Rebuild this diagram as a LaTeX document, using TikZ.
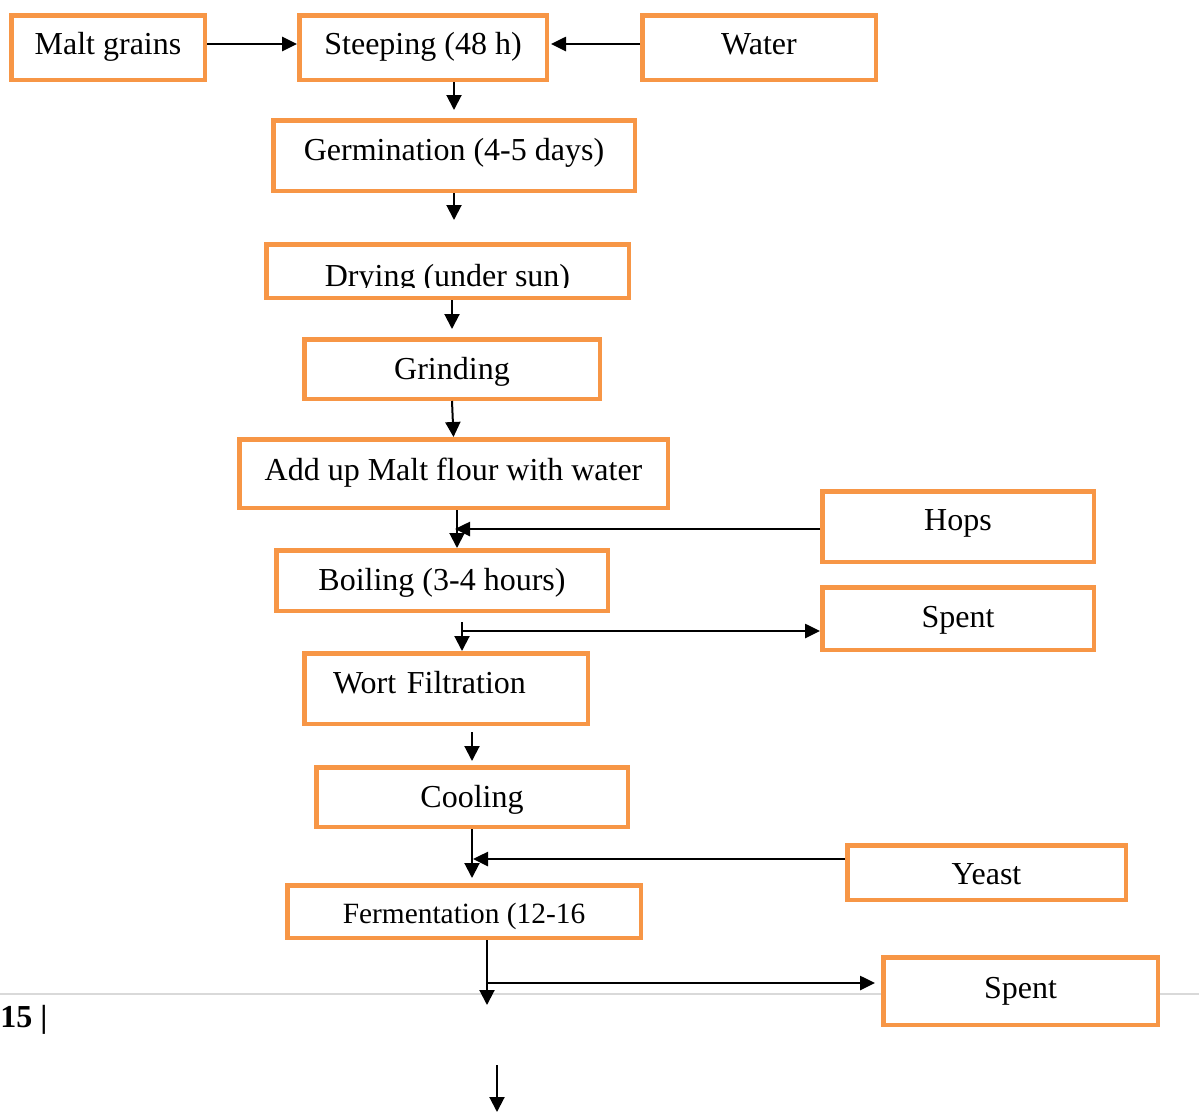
\documentclass[tikz,border=0pt]{standalone}
\usepackage{fontspec}
\setmainfont{Liberation Serif}
\definecolor{boxorange}{RGB}{247,150,70}
\definecolor{rulegray}{RGB}{217,217,217}
\usetikzlibrary{arrows.meta}

\begin{document}
\begin{tikzpicture}[x=0.5pt, y=-0.5pt,
    stepbox/.style={draw=boxorange, line width=2.25pt, fill=white, inner sep=0pt, font=\fontsize{16}{19}\selectfont, text height=10.9pt, text depth=3.5pt},
    flow/.style={-{Triangle[length=7.5pt, width=7.5pt]}, line width=1pt},
    feed/.style={-{Triangle[length=7.5pt, width=7pt]}, line width=1.3pt}]
    \useasboundingbox (0,0) rectangle (1199,1114);
    \draw[rulegray, line width=1pt] (0,994) -- (1199,994);
    \node[stepbox, minimum width=96.75pt, minimum height=32.25pt] (malt) at (108,47.5) {Malt grains};
    \node[stepbox, minimum width=123.75pt, minimum height=32.25pt] (steep) at (423,47.5) {Steeping (48 h)};
    \node[stepbox, minimum width=116.75pt, minimum height=32.25pt] (water) at (759,47.5) {Water};
    \node[stepbox, minimum width=180.75pt, minimum height=35.25pt, text depth=6.4pt] (germ) at (454,155.5) {Germination (4-5 days)};
    \node[stepbox, minimum width=181.25pt, minimum height=26.75pt] (dry) at (447.5,271) {};
    \begin{scope}
        \clip (dry.north west) rectangle (632,287);
        \node[anchor=base, inner sep=0pt, font=\fontsize{16}{19}\selectfont] (drytext) at (447.5,286) {Drying (under sun)};
    \end{scope}
    \node[stepbox, minimum width=147.75pt, minimum height=29.75pt, text height=13.9pt] (grind) at (452,369) {Grinding};
    \node[stepbox, minimum width=214.25pt, minimum height=34.25pt] (mash) at (453.5,473.5) {Add up Malt flour with water};
    \node[stepbox, minimum width=135.75pt, minimum height=35.25pt, text depth=7.4pt] (hops) at (958,526.5) {Hops};
    \node[stepbox, minimum width=165.75pt, minimum height=30.25pt, text height=13.9pt] (boil) at (442,580.5) {Boiling (3-4 hours)};
    \node[stepbox, minimum width=135.75pt, minimum height=31.25pt, text height=12.9pt] (spent) at (958,618.5) {Spent};
    \node[stepbox, minimum width=141.75pt, minimum height=35.25pt, text depth=6.4pt, text width=113pt, align=left] (wort) at (446,688.5) {Wort Filtration};
    \node[stepbox, minimum width=155.75pt, minimum height=29.75pt, text height=13.9pt] (cool) at (472,797) {Cooling};
    \node[stepbox, minimum width=139.25pt, minimum height=27.25pt, text height=15pt] (yeast) at (986.5,872.5) {Yeast};
    \node[stepbox, minimum width=176.75pt, minimum height=26.25pt, font=\fontsize{14.7}{17}\selectfont, text height=14.7pt, text depth=3.2pt] (ferm) at (464,911.5) {Fermentation (12-16};
    \node[stepbox, minimum width=137.25pt, minimum height=33.75pt] (spentb) at (1020.5,991) {Spent};
    \node[anchor=base west, inner sep=0pt, font=\bfseries\fontsize{16}{19}\selectfont] (pagenum) at (0,1027) {15 |};
    \coordinate (hopsin) at (457,529);
    \coordinate (spentout) at (462,631);
    \coordinate (yeastin) at (473,859);
    \coordinate (spentoutb) at (487,983);
    \coordinate (beerout) at (487,1005);
    \coordinate (nexttop) at (497,1065);
    \coordinate (nextend) at (497,1112);
    \draw[feed] ([yshift=1.75pt]malt.east) -- ([yshift=1.75pt]steep.west);
    \draw[feed, shorten >=1pt] ([yshift=1.75pt]water.west) -- ([yshift=1.75pt]steep.east);
    \draw[flow, shorten >=4pt] (germ.north |- steep.south) -- (germ.north);
    \draw[flow, shorten >=11pt] (germ.south) -- (germ.south |- dry.north);
    \draw[flow, shorten >=4pt] (grind.north |- dry.south) -- (grind.north);
    \draw[flow] (grind.south) -- (mash.north);
    \draw[flow] (hopsin |- mash.south) -- (hopsin |- boil.north);
    \draw[feed] (hops.west |- hopsin) -- ([xshift=-1pt]hopsin);
    \draw[flow, shorten <=4.5pt] (spentout |- boil.south) -- (spentout |- wort.north);
    \draw[feed] (spentout) -- (spentout -| spent.west);
    \draw[flow, shorten <=3pt, shorten >=2pt] (cool.north |- wort.south) -- (cool.north);
    \draw[flow, shorten >=2.5pt] (cool.south) -- (cool.south |- ferm.north);
    \draw[feed] (yeast.west |- yeastin) -- (yeastin);
    \draw[flow] (beerout |- ferm.south) -- (beerout);
    \draw[feed, shorten >=3pt] (spentoutb) -- (spentoutb -| spentb.west);
    \draw[flow] (nexttop) -- (nextend);
\end{tikzpicture}
\end{document}
